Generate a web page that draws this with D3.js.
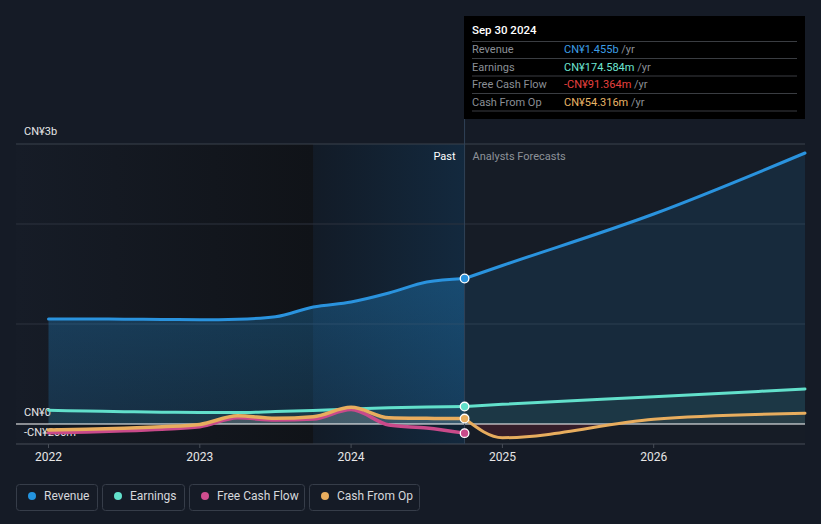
<!DOCTYPE html>
<html>
<head>
<meta charset="utf-8">
<script src="https://cdn.jsdelivr.net/npm/d3@7/dist/d3.min.js"></script>
<style>
  html, body { margin: 0; padding: 0; background: #151b26; }
  svg { display: block; font-family: Roboto, "Open Sans", sans-serif; }
</style>
</head>
<body>
<svg id="chart" width="821" height="524"></svg>
<script>
// ---- data (values in CN¥ billions, dates in decimal years) ----
const pastDates   = [2022.0, 2022.25, 2022.5, 2022.75, 2023.0, 2023.25, 2023.5, 2023.75, 2024.0, 2024.25, 2024.5, 2024.75];
const revenuePast = [1.05, 1.05, 1.048, 1.045, 1.043, 1.048, 1.072, 1.17, 1.22, 1.31, 1.42, 1.455];
const earningsPast= [0.137, 0.13, 0.123, 0.118, 0.115, 0.114, 0.124, 0.135, 0.15, 0.162, 0.17, 0.1746];
const fcfPast     = [-0.087, -0.08, -0.068, -0.052, -0.028, 0.062, 0.04, 0.05, 0.145, -0.01, -0.04, -0.0914];
const cfoPast     = [-0.06, -0.053, -0.043, -0.027, -0.004, 0.082, 0.057, 0.073, 0.167, 0.063, 0.057, 0.0543];

const forecastDates    = [2024.75, 2025.0, 2026.0, 2027.0];
const revenueForecast  = [1.455, 1.585, 2.1, 2.71];
const earningsForecast = [0.1746, 0.197, 0.273, 0.35];
const cfoForecast      = [0.0543, -0.137, 0.047, 0.107];

const xTicks = [2022, 2023, 2024, 2025, 2026];
const xTickLabels = ["2022", "2023", "2024", "2025", "2026"];
const yLabels = [{v: 2.8, t: "CN¥3b"}, {v: 0, t: "CN¥0"}, {v: -0.2, t: "-CN¥200m"}];
const gridValues = [2.8, 2.0, 1.0];

const tooltipDate = "Sep 30 2024";
const tooltipRows = [
  {label: "Revenue", value: "CN¥1.455b", color: "#3c9ee6"},
  {label: "Earnings", value: "CN¥174.584m", color: "#6ee6d2"},
  {label: "Free Cash Flow", value: "-CN¥91.364m", color: "#e8413f"},
  {label: "Cash From Op", value: "CN¥54.316m", color: "#e9b466"}
];
const legendItems = [
  {label: "Revenue", color: "#2394df"},
  {label: "Earnings", color: "#62e0cb"},
  {label: "Free Cash Flow", color: "#cf4d8f"},
  {label: "Cash From Op", color: "#e8ad5e"}
];
const colors = {rev: "#2a93de", earn: "#62e0cb", fcf: "#c94a8a", cfo: "#e8ad5e"};
const nowDate = 2024.75;
const bandStart = 2023.75;

// ---- scales ----
const svg = d3.select("#chart");
const x = d3.scaleLinear().domain([2022, 2027]).range([48.5, 805]);
const y = d3.scaleLinear().domain([-0.2, 2.8]).range([444, 144]);
const plotLeft = 16, plotRight = 805;

const defs = svg.append("defs");
const g1 = defs.append("linearGradient").attr("id", "pastBg").attr("x1", 0).attr("x2", 1).attr("y1", 0).attr("y2", 0);
g1.append("stop").attr("offset", 0).attr("stop-color", "#161c27");
g1.append("stop").attr("offset", 1).attr("stop-color", "#101318");
const g2 = defs.append("linearGradient").attr("id", "bandBg").attr("x1", 0).attr("x2", 1).attr("y1", 0).attr("y2", 0);
g2.append("stop").attr("offset", 0).attr("stop-color", "#121b27");
g2.append("stop").attr("offset", 1).attr("stop-color", "#13293e");
const g3 = defs.append("linearGradient").attr("id", "revFill").attr("x1", 0).attr("x2", 0).attr("y1", 0).attr("y2", 1);
g3.append("stop").attr("offset", 0).attr("stop-color", "#2394df").attr("stop-opacity", 0.32);
g3.append("stop").attr("offset", 1).attr("stop-color", "#2394df").attr("stop-opacity", 0.18);

defs.append("clipPath").attr("id", "aboveZero").append("rect")
  .attr("x", 0).attr("y", 0).attr("width", 821).attr("height", y(0));
defs.append("clipPath").attr("id", "belowZero").append("rect")
  .attr("x", 0).attr("y", y(0)).attr("width", 821).attr("height", 100);

// backgrounds
svg.append("rect").attr("x", 0).attr("y", 0).attr("width", 821).attr("height", 524).attr("fill", "#151b26");
svg.append("rect").attr("x", plotLeft).attr("y", y(2.8)).attr("width", x(bandStart) - plotLeft)
  .attr("height", y(-0.2) - y(2.8)).attr("fill", "url(#pastBg)");
svg.append("rect").attr("x", x(bandStart)).attr("y", y(2.8)).attr("width", x(nowDate) - x(bandStart))
  .attr("height", y(-0.2) - y(2.8)).attr("fill", "url(#bandBg)");
svg.append("rect").attr("x", x(nowDate)).attr("y", y(2.8)).attr("width", plotRight - x(nowDate))
  .attr("height", y(-0.2) - y(2.8)).attr("fill", "#161c26");

// gridlines
svg.selectAll("line.grid").data(gridValues).enter().append("line")
  .attr("x1", plotLeft).attr("x2", plotRight)
  .attr("y1", d => y(d)).attr("y2", d => y(d))
  .attr("stroke", (d, i) => i === 0 ? "#3b424d" : "#2c333e").attr("stroke-width", 1);

// axis baseline and ticks
svg.append("line").attr("x1", plotLeft).attr("x2", plotRight).attr("y1", y(-0.2)).attr("y2", y(-0.2))
  .attr("stroke", "#474d57").attr("stroke-width", 1);
svg.selectAll("line.tick").data(xTicks).enter().append("line")
  .attr("x1", d => x(d)).attr("x2", d => x(d)).attr("y1", y(-0.2)).attr("y2", y(-0.2) + 4)
  .attr("stroke", "#474d57");
svg.selectAll("text.xl").data(xTicks).enter().append("text")
  .attr("x", d => x(d)).attr("y", 461).attr("text-anchor", "middle")
  .attr("fill", "#e6e6e6").attr("font-size", 12).text((d, i) => xTickLabels[i]);

// y labels (drawn under the series)
const yLabelPos = [135, 416, 436];
svg.selectAll("text.yl").data(yLabels).enter().append("text")
  .attr("x", 24).attr("y", (d, i) => yLabelPos[i])
  .attr("fill", "#e6e6e6").attr("font-size", 11).text(d => d.t);

// helpers
const zip = (ds, vs) => ds.map((d, i) => ({d, v: vs[i]}));
const line = d3.line().x(p => x(p.d)).y(p => y(p.v)).curve(d3.curveMonotoneX);
const area = d3.area().x(p => x(p.d)).y0(y(0)).y1(p => y(p.v)).curve(d3.curveMonotoneX);

const revP = zip(pastDates, revenuePast), revF = zip(forecastDates, revenueForecast);
const earnP = zip(pastDates, earningsPast), earnF = zip(forecastDates, earningsForecast);
const fcfP = zip(pastDates, fcfPast);
const cfoP = zip(pastDates, cfoPast), cfoF = zip(forecastDates, cfoForecast);

// areas
svg.append("path").attr("d", area(revP)).attr("fill", "url(#revFill)");
svg.append("path").attr("d", area(revF)).attr("fill", "#2394df").attr("opacity", 0.12);
svg.append("path").attr("d", area(earnP)).attr("fill", "#62e0cb").attr("opacity", 0.07);
svg.append("path").attr("d", area(earnF)).attr("fill", "#62e0cb").attr("opacity", 0.07);
svg.append("path").attr("d", area(cfoP)).attr("fill", "#a0a0a0").attr("opacity", 0.22).attr("clip-path", "url(#aboveZero)");
svg.append("path").attr("d", area(fcfP)).attr("fill", "#a0a0a0").attr("opacity", 0.12).attr("clip-path", "url(#aboveZero)");
svg.append("path").attr("d", area(fcfP)).attr("fill", "#000").attr("opacity", 0.15).attr("clip-path", "url(#belowZero)");
svg.append("path").attr("d", area(cfoF)).attr("fill", "#e8ad5e").attr("opacity", 0.06).attr("clip-path", "url(#aboveZero)");
svg.append("path").attr("d", area(cfoF)).attr("fill", "#5a1f2e").attr("opacity", 0.45).attr("clip-path", "url(#belowZero)");

// zero line
svg.append("line").attr("x1", plotLeft).attr("x2", plotRight).attr("y1", y(0)).attr("y2", y(0))
  .attr("stroke", "#ffffff").attr("stroke-width", 1.2);

// divider at now
svg.append("line").attr("x1", x(nowDate)).attr("x2", x(nowDate)).attr("y1", 16).attr("y2", y(-0.2))
  .attr("stroke", "#2f4257").attr("stroke-width", 1);

// lines
const drawLine = (data, color, w) => svg.append("path").attr("d", line(data)).attr("fill", "none")
  .attr("stroke", color).attr("stroke-width", w).attr("stroke-linecap", "round");
drawLine(revP, colors.rev, 3);
drawLine(revF, colors.rev, 3);
drawLine(earnP, colors.earn, 3);
drawLine(earnF, colors.earn, 3);
drawLine(fcfP, colors.fcf, 3.5);
drawLine(cfoP, colors.cfo, 3.5);
drawLine(cfoF, colors.cfo, 3);

// markers at now
const markers = [
  {v: revenuePast[revenuePast.length - 1], c: colors.rev},
  {v: earningsPast[earningsPast.length - 1], c: colors.earn},
  {v: cfoPast[cfoPast.length - 1], c: colors.cfo},
  {v: fcfPast[fcfPast.length - 1], c: colors.fcf}
];
svg.selectAll("circle.m").data(markers).enter().append("circle")
  .attr("cx", x(nowDate)).attr("cy", d => y(d.v)).attr("r", 4.3)
  .attr("fill", d => d.c).attr("stroke", "#ffffff").attr("stroke-width", 1.3);

// Past / forecast labels
svg.append("text").attr("x", x(nowDate) - 9).attr("y", 160).attr("text-anchor", "end")
  .attr("fill", "#ffffff").attr("font-size", 11).text("Past");
svg.append("text").attr("x", x(nowDate) + 8).attr("y", 160)
  .attr("fill", "#8d9299").attr("font-size", 11).text("Analysts Forecasts");

// tooltip
const tt = svg.append("g");
tt.append("rect").attr("x", 464).attr("y", 16).attr("width", 341).attr("height", 103).attr("fill", "#000000");
tt.append("text").attr("x", 472).attr("y", 34).attr("fill", "#ffffff").attr("font-size", 11.5)
  .attr("font-weight", 500).text(tooltipDate);
const sepY = [41.5, 58.5, 76, 93.5, 111];
tt.selectAll("line.sep").data(sepY).enter().append("line")
  .attr("x1", 472).attr("x2", 797).attr("y1", d => d).attr("y2", d => d)
  .attr("stroke", "#3a3d42").attr("stroke-width", 1);
const rowY = [53, 70.5, 88, 105.5];
tooltipRows.forEach((r, i) => {
  tt.append("text").attr("x", 472).attr("y", rowY[i]).attr("fill", "#8b8f96").attr("font-size", 11).text(r.label);
  const t = tt.append("text").attr("x", 564).attr("y", rowY[i]).attr("font-size", 11);
  t.append("tspan").attr("fill", r.color).text(r.value);
  t.append("tspan").attr("fill", "#8b8f96").text(" /yr");
});

// legend
const legendBoxes = [[16, 81], [102, 82], [189, 115], [309, 110]];
legendItems.forEach((it, i) => {
  const [bx, bw] = legendBoxes[i];
  const lg = svg.append("g");
  lg.append("rect").attr("x", bx + 0.5).attr("y", 484.5).attr("width", bw).attr("height", 26).attr("rx", 3)
    .attr("fill", "none").attr("stroke", "#363d49");
  lg.append("circle").attr("cx", bx + 16).attr("cy", 496).attr("r", 4).attr("fill", it.color);
  lg.append("text").attr("x", bx + 28).attr("y", 500).attr("fill", "#d6d8dc").attr("font-size", 12).text(it.label);
});
</script>
</body>
</html>
